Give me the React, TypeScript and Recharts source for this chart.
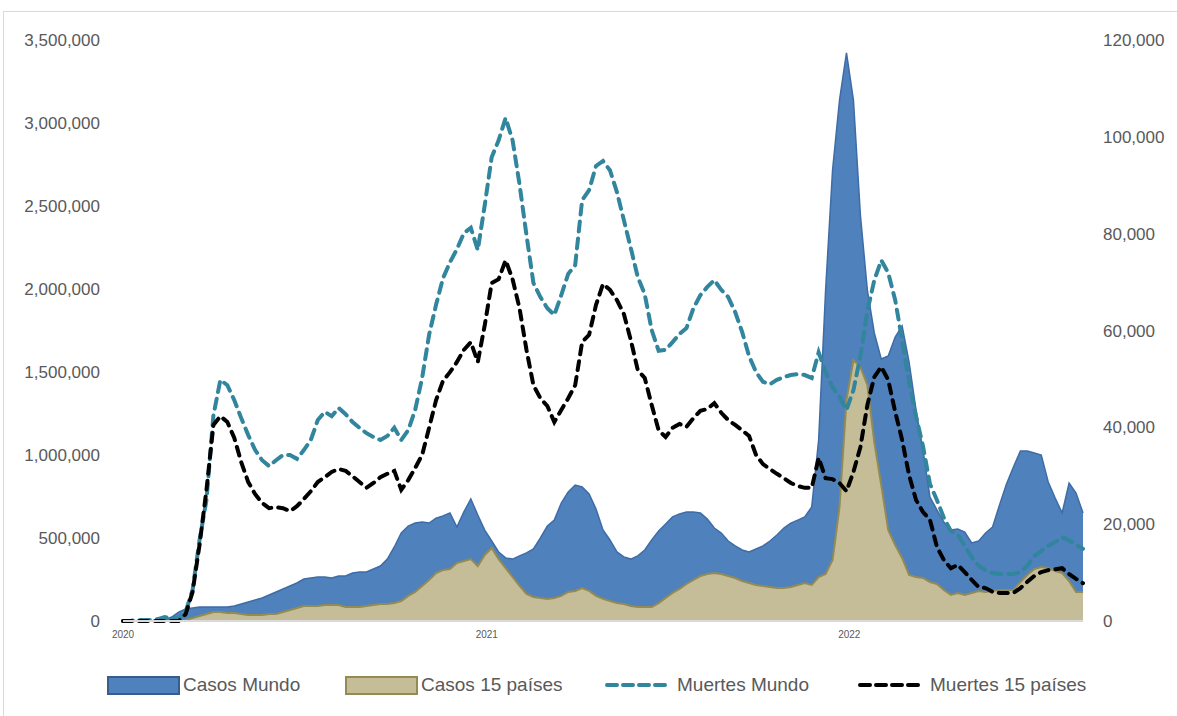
import { ComposedChart, Area, Line, XAxis, YAxis } from 'recharts';

// weekly series, Jan 2020 -> Aug 2022 (one value per week)
const casosMundo = [
  0, 0, 0, 0, 0, 0, 6000, 24000, 54000, 72000,
  78000, 84000, 84000, 84000, 84000, 84000, 90000, 102000, 114000, 127000,
  139000, 157000, 175000, 193000, 211000, 229000, 253000, 259000, 265000, 265000,
  259000, 271000, 271000, 289000, 295000, 295000, 313000, 331000, 373000, 446000,
  530000, 572000, 590000, 596000, 590000, 620000, 633000, 651000, 566000, 657000,
  735000, 639000, 548000, 482000, 416000, 380000, 373000, 392000, 410000, 434000,
  500000, 572000, 608000, 711000, 777000, 819000, 807000, 765000, 675000, 548000,
  488000, 416000, 386000, 373000, 392000, 428000, 488000, 542000, 584000, 627000,
  645000, 657000, 657000, 651000, 614000, 560000, 530000, 482000, 452000, 428000,
  416000, 434000, 452000, 482000, 518000, 560000, 590000, 608000, 627000, 687000,
  1090000, 1994000, 2717000, 3138000, 3422000, 3138000, 2446000, 1994000, 1735000, 1578000,
  1596000, 1711000, 1777000, 1560000, 1271000, 1030000, 747000, 669000, 596000, 548000,
  554000, 536000, 470000, 482000, 530000, 566000, 699000, 825000, 928000, 1024000,
  1024000, 1012000, 1000000, 837000, 741000, 651000, 831000, 771000, 651000,
];

const casos15 = [
  0, 0, 0, 0, 0, 0, 0, 0, 0, 6000,
  18000, 30000, 42000, 54000, 54000, 48000, 48000, 42000, 36000, 36000,
  36000, 42000, 42000, 54000, 66000, 78000, 90000, 90000, 90000, 96000,
  96000, 96000, 84000, 84000, 84000, 90000, 96000, 102000, 102000, 108000,
  120000, 151000, 175000, 211000, 247000, 289000, 307000, 313000, 349000, 361000,
  373000, 331000, 398000, 440000, 373000, 319000, 265000, 211000, 163000, 145000,
  139000, 133000, 139000, 151000, 175000, 181000, 199000, 181000, 151000, 133000,
  120000, 108000, 102000, 90000, 84000, 84000, 84000, 108000, 139000, 169000,
  193000, 223000, 247000, 271000, 283000, 289000, 283000, 271000, 259000, 241000,
  229000, 217000, 211000, 205000, 199000, 199000, 205000, 217000, 229000, 217000,
  265000, 283000, 367000, 687000, 1331000, 1572000, 1530000, 1422000, 1078000, 819000,
  548000, 458000, 380000, 277000, 265000, 259000, 235000, 223000, 187000, 157000,
  169000, 157000, 169000, 181000, 175000, 181000, 187000, 187000, 187000, 235000,
  277000, 313000, 325000, 319000, 301000, 289000, 241000, 175000, 175000,
];

const muertesMundo = [
  0, 0, 200, 200, 200, 400, 800, 600, 400, 1900,
  6400, 16700, 25000, 42500, 49800, 48700, 45600, 41900, 38400, 35300,
  33200, 32000, 33200, 34300, 34300, 33500, 35300, 37400, 41500, 43200,
  42300, 44000, 42700, 41100, 39900, 38800, 38000, 37400, 38200, 39900,
  37400, 39400, 43600, 50200, 59100, 65300, 70800, 74100, 76800, 80100,
  81200, 76600, 85900, 95800, 99300, 103900, 99300, 90200, 79700, 69800,
  66900, 64600, 63200, 67300, 71700, 73500, 86900, 89000, 94000, 95000,
  93100, 88600, 82800, 77000, 71000, 67500, 60100, 55800, 56000, 57600,
  59300, 60500, 64600, 67300, 69000, 70400, 68400, 66900, 63800, 59700,
  54700, 51400, 49400, 48900, 49800, 50400, 50800, 51000, 50800, 50200,
  55500, 51400, 48300, 46300, 43600, 47700, 54700, 64000, 70400, 74500,
  71900, 66300, 58000, 49400, 42300, 36100, 28300, 25000, 21300, 18600,
  17800, 15500, 13200, 11400, 10500, 9900, 9700, 9700, 9700, 10100,
  11400, 13400, 14500, 15500, 16300, 17300, 16700, 15700, 14900,
];

const muertes15 = [
  0, 0, 0, 0, 0, 0, 0, 0, 0, 1400,
  6000, 15700, 27100, 40500, 42300, 41100, 37800, 32800, 28700, 26200,
  24400, 23300, 23500, 23300, 22700, 23700, 25200, 26800, 28700, 29700,
  30800, 31400, 31000, 29900, 28700, 27500, 28500, 29700, 30400, 31000,
  27100, 29100, 31600, 34300, 39900, 45600, 49600, 51400, 53500, 56000,
  57600, 53500, 61100, 69800, 70600, 74500, 70600, 64600, 56000, 48700,
  46000, 44400, 41100, 43600, 46000, 48700, 57600, 59100, 65300, 69600,
  68400, 66300, 63400, 58000, 51800, 50200, 44600, 39400, 38000, 39900,
  40700, 40100, 41900, 43400, 43800, 45000, 43000, 41500, 40500, 39400,
  38200, 34300, 32400, 31400, 30400, 29500, 28500, 27900, 27500, 27500,
  33700, 29500, 29300, 28500, 26800, 30800, 35900, 44600, 50400, 52500,
  49800, 43200, 37400, 30100, 25000, 22500, 20900, 15300, 12600, 10900,
  11600, 10100, 8500, 7000, 6800, 6000, 5800, 5800, 5800, 6800,
  8100, 9300, 10100, 10500, 10700, 10900, 9700, 8700, 7800,
];

// Jan 1 of each year, in weeks from the first point
const yearTicks = [0, 52.3, 104.4];
const yearLabels = ['2020', '2021', '2022'];
const casosTicks = [0, 500000, 1000000, 1500000, 2000000, 2500000, 3000000, 3500000];
const muertesTicks = [0, 20000, 40000, 60000, 80000, 100000, 120000];

const data = casosMundo.map((v, i) => ({
  week: i,
  casosMundo: v,
  casos15: casos15[i],
  muertesMundo: muertesMundo[i],
  muertes15: muertes15[i],
}));

const FONT = '"Liberation Sans", Arial, sans-serif';
const TEXT = '#595959';
const BLUE = '#4f81bd';
const TAN = '#c4bd97';
const TEAL = '#31859c';

const fmt = (v: number) => v.toLocaleString('en-US');
const yearOf = (v: number) => yearLabels[yearTicks.indexOf(v)] ?? '';

function Swatch({ fill, stroke }: { fill: string; stroke: string }) {
  return (
    <div style={{ width: 69, height: 15, background: fill, border: `2px solid ${stroke}` }} />
  );
}

function Dash({ color }: { color: string }) {
  return (
    <svg width={70} height={10}>
      <line x1={3} y1={5} x2={67} y2={5} stroke={color} strokeWidth={4}
        strokeDasharray="10 6" strokeLinecap="round" />
    </svg>
  );
}

const legendItems = [
  { label: 'Casos Mundo', left: 107, mark: <Swatch fill={BLUE} stroke="#385d8a" /> },
  { label: 'Casos 15 países', left: 345, mark: <Swatch fill={TAN} stroke="#948a54" /> },
  { label: 'Muertes Mundo', left: 604, mark: <Dash color={TEAL} /> },
  { label: 'Muertes 15 países', left: 857, mark: <Dash color="#000" /> },
];

export default function App() {
  return (
    <div style={{ position: 'absolute', left: 0, top: 0, width: 1177, height: 716, overflow: 'hidden', background: '#fff', fontFamily: FONT }}>
      <div style={{ position: 'absolute', left: 3, top: 11, width: 1300, height: 900, border: '1px solid #d9d9d9' }} />
      <div style={{ position: 'absolute', left: 0, top: 0 }}>
        <ComposedChart width={1177} height={716} data={data}
          margin={{ top: 40, right: 0, bottom: 65, left: 0 }}>
          <XAxis
            dataKey="week"
            type="number"
            domain={[0, 138]}
            ticks={yearTicks}
            tickFormatter={yearOf}
            height={30}
            tickLine={false}
            tickSize={0}
            tickMargin={10}
            axisLine={{ stroke: '#d9d9d9', strokeWidth: 2 }}
            tick={{ fill: TEXT, fontSize: 10, fontFamily: FONT }}
          />
          <YAxis
            yAxisId="casos"
            orientation="left"
            width={123}
            domain={[0, 3500000]}
            ticks={casosTicks}
            tickFormatter={fmt}
            axisLine={false}
            tickLine={false}
            tickSize={0}
            tickMargin={23}
            tick={{ fill: TEXT, fontSize: 17, fontFamily: FONT }}
          />
          <YAxis
            yAxisId="muertes"
            orientation="right"
            width={94}
            domain={[0, 120000]}
            ticks={muertesTicks}
            tickFormatter={fmt}
            axisLine={false}
            tickLine={false}
            tickSize={0}
            tickMargin={20}
            tick={{ fill: TEXT, fontSize: 17, fontFamily: FONT, textAnchor: 'start' }}
          />
          <Area yAxisId="casos" type="linear" dataKey="casosMundo" name="Casos Mundo"
            fill={BLUE} fillOpacity={1} stroke="#3e6ca6" strokeWidth={1.5} isAnimationActive={false} />
          <Area yAxisId="casos" type="linear" dataKey="casos15" name="Casos 15 países"
            fill={TAN} fillOpacity={1} stroke="#948a54" strokeWidth={2} isAnimationActive={false} />
          <Line yAxisId="muertes" type="linear" dataKey="muertesMundo" name="Muertes Mundo"
            stroke={TEAL} strokeWidth={4} strokeDasharray="10 7" strokeLinecap="round"
            dot={false} isAnimationActive={false} />
          <Line yAxisId="muertes" type="linear" dataKey="muertes15" name="Muertes 15 países"
            stroke="#000" strokeWidth={4} strokeDasharray="9 7" strokeLinecap="round"
            dot={false} isAnimationActive={false} />
        </ComposedChart>
      </div>
      {legendItems.map((it) => (
        <div key={it.label} style={{ position: 'absolute', left: it.left, top: 672, height: 26, display: 'flex', alignItems: 'center', gap: 3 }}>
          {it.mark}
          <span style={{ fontSize: 19, color: TEXT, whiteSpace: 'nowrap' }}>{it.label}</span>
        </div>
      ))}
    </div>
  );
}
